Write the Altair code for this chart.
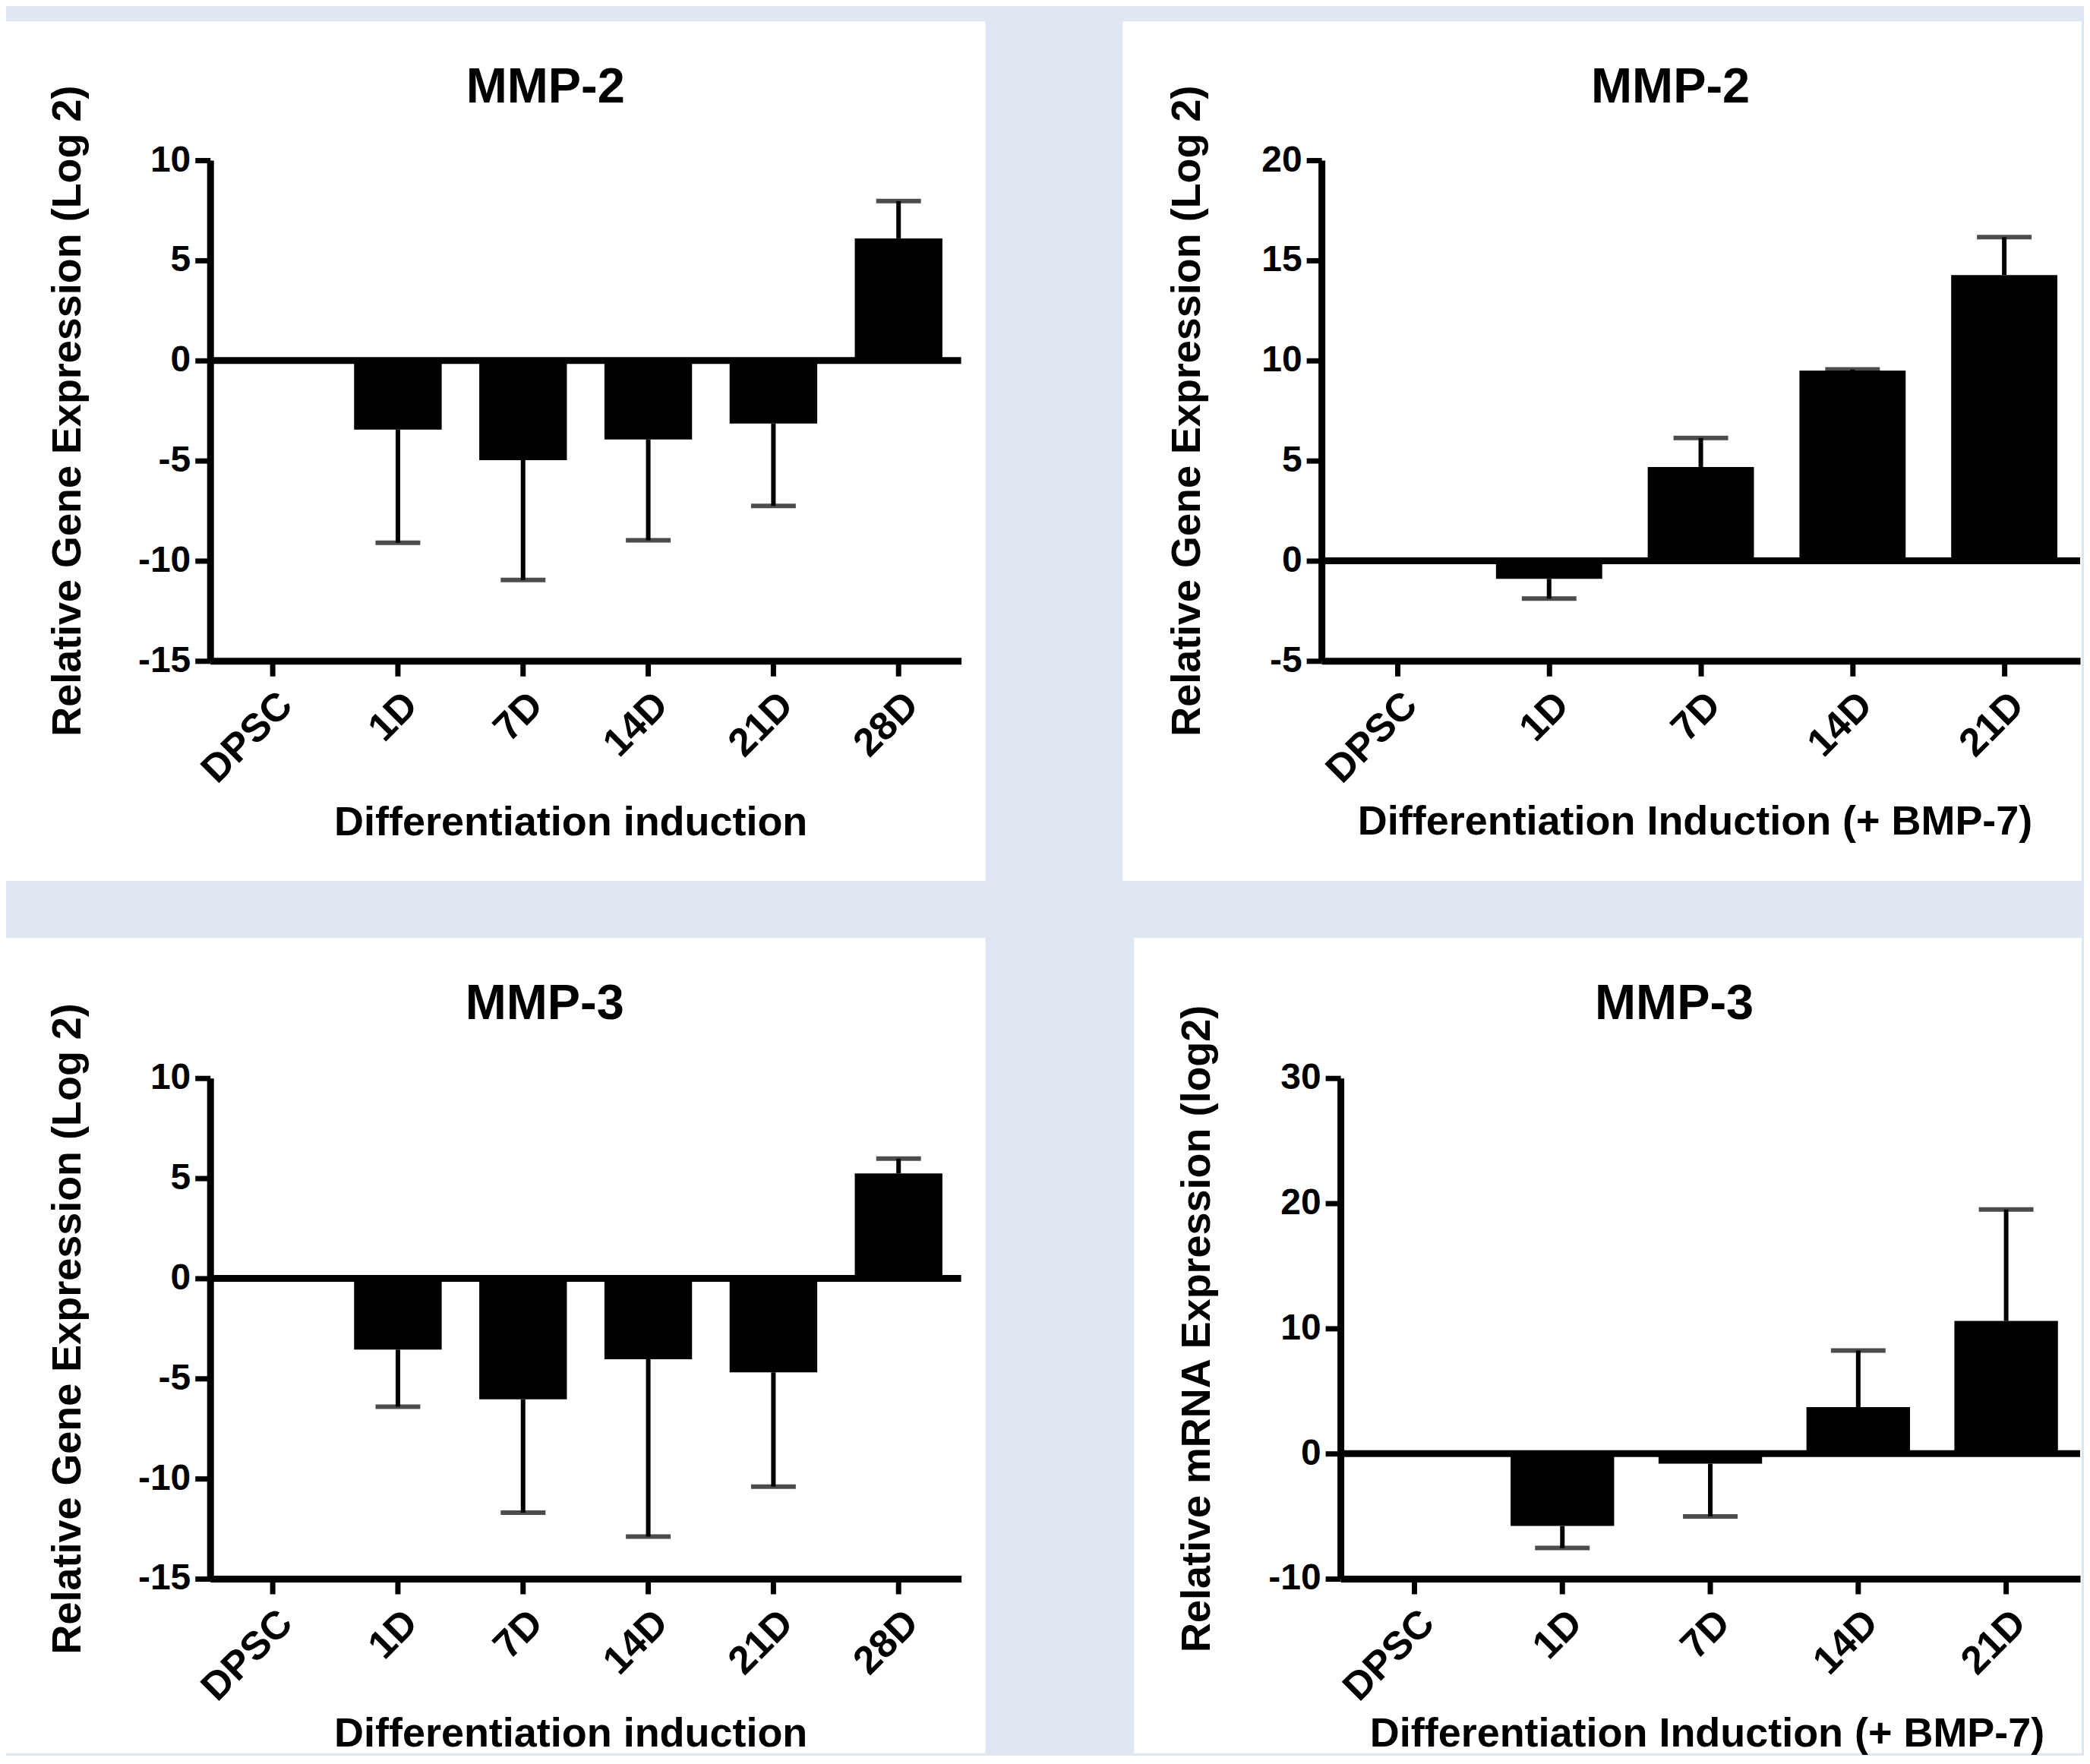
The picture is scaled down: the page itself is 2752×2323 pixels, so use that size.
import altair as alt
import pandas as pd

FONT = "Liberation Sans"
PAGE_BG = "#dfe8f2"

# ---- data ----
cats_diff = ["DPSC", "1D", "7D", "14D", "21D", "28D"]
cats_bmp = ["DPSC", "1D", "7D", "14D", "21D"]

mmp2_diff_mean = [0.0, -3.45, -4.98, -3.94, -3.15, 6.1]
mmp2_diff_err = [None, -9.1, -10.96, -8.98, -7.26, 7.96]

mmp2_bmp_mean = [0.0, -0.9, 4.68, 9.5, 14.27]
mmp2_bmp_err = [None, -1.89, 6.13, 9.55, 16.16]

mmp3_diff_mean = [0.0, -3.56, -6.04, -4.04, -4.70, 5.24]
mmp3_diff_err = [None, -6.41, -11.7, -12.9, -10.4, 5.98]

mmp3_bmp_mean = [0.0, -5.79, -0.81, 3.71, 10.6]
mmp3_bmp_err = [None, -7.55, -5.02, 8.23, 19.5]

ticks_a = [-15, -10, -5, 0, 5, 10]
ticks_b = [-5, 0, 5, 10, 15, 20]
ticks_c = [-10, 0, 10, 20, 30]


def panel(cats, means, errs, title, ytitle, xtitle, dom, yvals, w, h,
          rect, tpos, xtpos, ytx, cap):
    df = pd.DataFrame({"cat": cats, "mean": means, "err": errs})
    edf = df.dropna()
    tdf = pd.DataFrame({"label": [title]})

    xsc = alt.Scale(domain=cats, paddingInner=0.3, paddingOuter=0.15)
    ysc = alt.Scale(domain=dom, nice=False, zero=False)

    xax = alt.Axis(
        title=xtitle, titleX=xtpos[0], titleY=xtpos[1], titleAngle=0,
        titleAlign="center", titleBaseline="alphabetic",
        labelAngle=-45, labelOverlap=False, labelPadding=12, labelFontSize=52,
        bandPosition=0.5, zindex=1,
    )
    yax = alt.Axis(
        title=ytitle, titleX=ytx, titleY=h / 2, titleAngle=-90,
        titleAlign="center", titleBaseline="alphabetic",
        values=yvals, labelOverlap=False, labelPadding=6, labelFontSize=48,
        labelExpr="(datum.value < 0 ? '-' : '') + abs(datum.value)",
        zindex=1,
    )

    bg = alt.Chart(tdf).mark_rect(color="white").encode(
        x=alt.value(rect[0]), x2=alt.value(rect[1]),
        y=alt.value(rect[2]), y2=alt.value(rect[3]),
    )
    ttl = alt.Chart(tdf).mark_text(
        font=FONT, fontWeight="bold", fontSize=65, color="black",
        align="center", baseline="alphabetic",
    ).encode(x=alt.value(tpos[0]), y=alt.value(tpos[1]), text="label:N")

    bars = alt.Chart(df).mark_bar(color="black").encode(
        x=alt.X("cat:N", sort=cats, scale=xsc, axis=xax),
        y=alt.Y("mean:Q", scale=ysc, axis=yax),
        y2=alt.datum(0),
    )
    err = alt.Chart(edf).mark_rule(color="black", strokeWidth=6).encode(
        x=alt.X("cat:N", sort=cats),
        y=alt.Y("mean:Q"),
        y2="err:Q",
    )
    caps = alt.Chart(edf).mark_tick(color="black", thickness=6, size=cap,
                                    orient="horizontal").encode(
        x=alt.X("cat:N", sort=cats),
        y=alt.Y("err:Q"),
    )
    zero = alt.Chart(tdf).mark_rule(color="black", strokeWidth=9).encode(
        y=alt.datum(0)
    )
    return alt.layer(bg, ttl, bars, err, caps, zero).properties(width=w, height=h)


H = 660
p1 = panel(cats_diff, mmp2_diff_mean, mmp2_diff_err, "MMP-2",
           "Relative Gene Expression (Log 2)", "Differentiation induction",
           [-15, 10], ticks_a, 990, H,
           (-269, 1022, -183, 950), (442, -76), (475, 229), -171, 59)
p2 = panel(cats_bmp, mmp2_bmp_mean, mmp2_bmp_err, "MMP-2",
           "Relative Gene Expression (Log 2)", "Differentiation Induction (+ BMP-7)",
           [-5, 20], ticks_b, 1000, H,
           (-262, 1002, -183, 950), (460, -76), (492, 228), -161, 72)
p3 = panel(cats_diff, mmp3_diff_mean, mmp3_diff_err, "MMP-3",
           "Relative Gene Expression (Log 2)", "Differentiation induction",
           [-15, 10], ticks_a, 990, H,
           (-269, 1022, -185, 890), (441, -78), (475, 221), -171, 59)
p4 = panel(cats_bmp, mmp3_bmp_mean, mmp3_bmp_err, "MMP-3",
           "Relative mRNA Expression (log2)", "Differentiation Induction (+ BMP-7)",
           [-10, 30], ticks_c, 975, H,
           (-272, 977, -185, 890), (440, -78), (483, 221), -173, 72)

top = alt.hconcat(p1, p2, spacing=181)
bottom = alt.hconcat(p3, p4, spacing=196)

chart = alt.vconcat(top, bottom, spacing=75).properties(
    background=PAGE_BG,
    padding={"left": 0, "top": 19, "right": 0, "bottom": 0},
).configure_view(strokeWidth=0).configure_axis(
    labelFont=FONT, labelFontWeight="bold", labelFontSize=48, labelColor="black",
    titleFont=FONT, titleFontWeight="bold", titleFontSize=54, titleColor="black",
    domainColor="black", domainWidth=9, tickColor="black", tickWidth=7,
    tickSize=20, grid=False,
)

chart.save("out.html", embed_options={"renderer": "svg", "actions": False})
